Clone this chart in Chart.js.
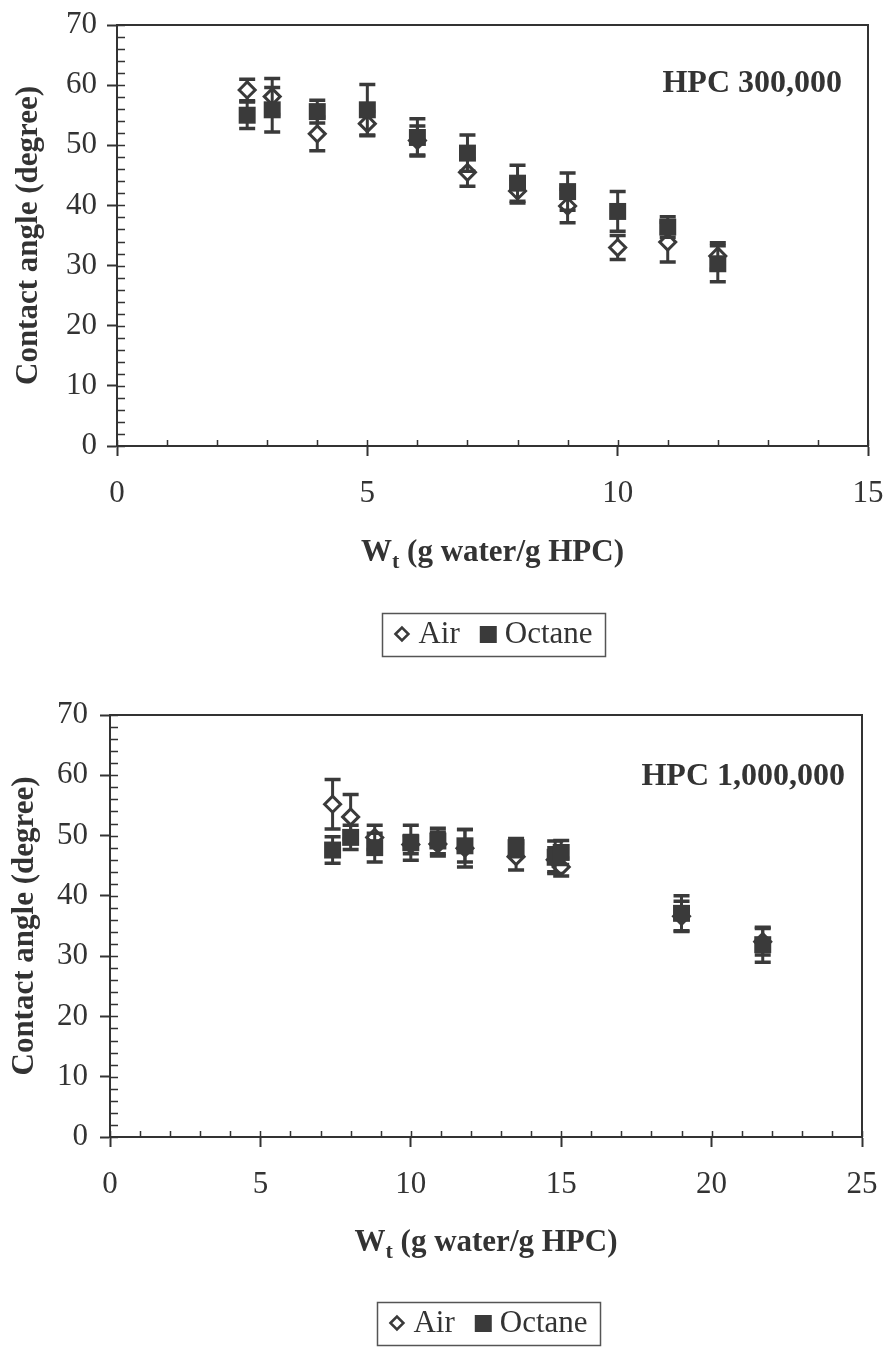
<!DOCTYPE html>
<html>
<head>
<meta charset="utf-8">
<script src="https://cdn.jsdelivr.net/npm/chart.js@4.4.1/dist/chart.umd.min.js"></script>
<style>
  html, body { margin: 0; padding: 0; background: #fff; }
  .panel { position: absolute; left: 0; width: 888px; }
</style>
</head>
<body>
<div class="panel" style="top:0;height:690px"><canvas id="chartTop" width="888" height="690"></canvas></div>
<div class="panel" style="top:690px;height:657px"><canvas id="chartBottom" width="888" height="657"></canvas></div>
<script>
// HPC 300,000
const topX = [2.6, 3.1, 4.0, 5.0, 6.0, 7.0, 8.0, 9.0, 10.0, 11.0, 12.0];
const topAir = [59.2, 58.1, 51.9, 53.6, 50.8, 45.5, 42.4, 39.9, 33.0, 33.9, 31.6];
const topAirErr = [1.8, 3.0, 2.8, 2.0, 2.4, 2.3, 2.0, 2.8, 2.0, 3.3, 2.2];
const topOctane = [55.0, 55.9, 55.6, 55.9, 51.3, 48.7, 43.7, 42.3, 39.0, 36.4, 30.3];
const topOctaneErr = [2.2, 3.7, 1.9, 4.2, 3.1, 3.0, 3.0, 3.1, 3.3, 1.7, 3.0];

// HPC 1,000,000
const bottomX = [7.4, 8.0, 8.8, 10.0, 10.9, 11.8, 13.5, 14.8, 15.0, 19.0, 21.7];
const bottomAir = [55.2, 53.1, 49.7, 48.5, 48.6, 47.9, 46.5, 46.0, 44.8, 36.6, 32.4];
const bottomAirErr = [4.1, 3.7, 2.0, 1.5, 2.0, 3.1, 2.2, 2.0, 1.5, 2.5, 2.2];
const bottomOctane = [47.6, 49.7, 48.0, 48.8, 49.1, 48.3, 48.0, 46.4, 47.2, 37.1, 31.9];
const bottomOctaneErr = [2.2, 2.0, 2.4, 2.9, 2.1, 2.7, 1.5, 2.7, 2.0, 2.9, 2.9];

const seriesNames = ['Air', 'Octane'];
const yTitle = 'Contact angle (degree)';
const yMax = 70, yMajor = 10, yMinor = 2;
const xMinor = 1;

const SERIF = "'Liberation Serif', 'Times New Roman', serif";
const INK = '#333333';
const MARK = '#3a3a3a';

function points(xs, ys) {
    return xs.map((x, i) => ({ x: x, y: ys[i] }));
}

// error bars drawn just before each dataset's markers
const errorBars = {
    id: 'errorBars',
    beforeDatasetDraw(chart, args) {
        const ds = chart.data.datasets[args.index];
        if (!ds.errors) return;
        const yScale = chart.scales.y;
        const ctx = chart.ctx;
        ctx.save();
        ctx.strokeStyle = MARK;
        args.meta.data.forEach((pt, i) => {
            const v = ds.data[i].y;
            const e = ds.errors[i];
            const top = yScale.getPixelForValue(v + e);
            const bot = yScale.getPixelForValue(v - e);
            ctx.lineWidth = 3;
            ctx.beginPath();
            ctx.moveTo(pt.x, top); ctx.lineTo(pt.x, bot);
            ctx.stroke();
            ctx.lineWidth = 3.5;
            ctx.beginPath();
            ctx.moveTo(pt.x - 8, top); ctx.lineTo(pt.x + 8, top);
            ctx.moveTo(pt.x - 8, bot); ctx.lineTo(pt.x + 8, bot);
            ctx.stroke();
        });
        ctx.restore();
    }
};

// frame, minor ticks, titles, label and boxed legend
const decor = {
    id: 'decor',
    afterDraw(chart, args, opts) {
        const { ctx, chartArea: a } = chart;
        const x = chart.scales.x, y = chart.scales.y;
        ctx.save();
        ctx.strokeStyle = INK;
        ctx.lineWidth = 2;
        ctx.strokeRect(a.left, a.top, a.right - a.left, a.bottom - a.top);

        ctx.lineWidth = 1.5;
        ctx.beginPath();
        for (let v = y.min; v <= y.max; v += yMinor) {
            const py = Math.round(y.getPixelForValue(v)) + 0.5;
            ctx.moveTo(a.left, py); ctx.lineTo(a.left + 8, py);
        }
        for (let v = x.min; v <= x.max; v += xMinor) {
            const px = Math.round(x.getPixelForValue(v)) + 0.5;
            ctx.moveTo(px, a.bottom); ctx.lineTo(px, a.bottom - 6);
        }
        ctx.stroke();

        ctx.fillStyle = INK;
        // y title
        ctx.save();
        ctx.translate(opts.yTitleX, (a.top + a.bottom) / 2);
        ctx.rotate(-Math.PI / 2);
        ctx.font = `bold 31px ${SERIF}`;
        ctx.textAlign = 'center';
        ctx.textBaseline = 'middle';
        ctx.fillText(yTitle, 0, 0);
        ctx.restore();

        // x title with subscript t
        const big = `bold 31px ${SERIF}`, small = `bold 22px ${SERIF}`;
        const p1 = 'W', p2 = 't', p3 = ' (g water/g HPC)';
        ctx.font = big; const w1 = ctx.measureText(p1).width, w3 = ctx.measureText(p3).width;
        ctx.font = small; const w2 = ctx.measureText(p2).width;
        let tx = (a.left + a.right) / 2 - (w1 + w2 + w3) / 2;
        ctx.textAlign = 'left';
        ctx.textBaseline = 'alphabetic';
        ctx.font = big; ctx.fillText(p1, tx, opts.xTitleBase); tx += w1;
        ctx.font = small; ctx.fillText(p2, tx, opts.xTitleBase + 7); tx += w2;
        ctx.font = big; ctx.fillText(p3, tx, opts.xTitleBase);

        // sample label
        ctx.font = `bold 32px ${SERIF}`;
        ctx.textAlign = 'right';
        ctx.fillText(opts.label, a.right - opts.labelRight, a.top + opts.labelBase);

        // legend
        ctx.font = `31px ${SERIF}`;
        const wAir = ctx.measureText(seriesNames[0]).width;
        const wOct = ctx.measureText(seriesNames[1]).width;
        const total = 11 + 17 + 8 + wAir + 20 + 17 + 8 + wOct + 13;
        const left = opts.legendX - total / 2;
        const cy = opts.legendY;
        ctx.lineWidth = 1.5;
        ctx.strokeStyle = '#555';
        ctx.strokeRect(Math.round(left) + 0.5, Math.round(cy - 21.5) + 0.5, Math.round(total), 43);
        let lx = left + 11;
        ctx.strokeStyle = MARK;
        ctx.lineWidth = 2.5;
        ctx.beginPath();
        ctx.moveTo(lx + 2, cy); ctx.lineTo(lx + 8.5, cy - 6.5);
        ctx.lineTo(lx + 15, cy); ctx.lineTo(lx + 8.5, cy + 6.5);
        ctx.closePath();
        ctx.stroke();
        lx += 25;
        ctx.textAlign = 'left';
        ctx.textBaseline = 'middle';
        ctx.fillStyle = INK;
        ctx.fillText(seriesNames[0], lx, cy + 1);
        lx += wAir + 20;
        ctx.fillStyle = MARK;
        ctx.fillRect(lx, cy - 8, 17, 17);
        lx += 25;
        ctx.fillStyle = INK;
        ctx.fillText(seriesNames[1], lx, cy + 1);
        ctx.restore();
    }
};

function makeChart(id, xs, air, airErr, oct, octErr, geo) {
    const ctx = document.getElementById(id).getContext('2d');
    return new Chart(ctx, {
        type: 'scatter',
        data: {
            datasets: [{
                label: seriesNames[0],
                data: points(xs, air),
                errors: airErr,
                pointStyle: 'rectRot',
                pointRadius: 8,
                pointBorderWidth: 3,
                borderColor: MARK,
                backgroundColor: '#ffffff',
                order: 2
            }, {
                label: seriesNames[1],
                data: points(xs, oct),
                errors: octErr,
                pointStyle: 'rect',
                pointRadius: 12,
                pointBorderWidth: 0,
                borderColor: MARK,
                backgroundColor: MARK,
                order: 1
            }]
        },
        options: {
            responsive: false,
            animation: false,
            devicePixelRatio: 1,
            layout: { padding: { top: geo.top, right: geo.right, left: 0, bottom: 0 } },
            plugins: {
                legend: { display: false },
                tooltip: { enabled: false },
                decor: geo.decor
            },
            scales: {
                x: {
                    type: 'linear',
                    min: 0,
                    max: geo.xMax,
                    afterFit: (s) => {
                        s.height = geo.xHeight;
                        s.paddingLeft = 0;
                        s.paddingRight = 0;
                    },
                    ticks: {
                        stepSize: geo.xStep,
                        padding: 19,
                        color: INK,
                        font: { family: SERIF, size: 31 }
                    },
                    grid: { drawOnChartArea: false, drawTicks: true, tickLength: 10, tickColor: INK, tickWidth: 2 },
                    border: { display: true, color: INK, width: 2 }
                },
                y: {
                    min: 0,
                    max: yMax,
                    afterFit: (s) => {
                        s.width = geo.yWidth;
                        s.paddingTop = 0;
                        s.paddingBottom = 0;
                    },
                    ticks: {
                        stepSize: yMajor,
                        padding: geo.yPad,
                        color: INK,
                        font: { family: SERIF, size: 31 }
                    },
                    grid: { drawOnChartArea: false, drawTicks: true, tickLength: 10, tickColor: INK, tickWidth: 2 },
                    border: { display: true, color: INK, width: 2 }
                }
            }
        },
        plugins: [errorBars, decor]
    });
}

makeChart('chartTop', topX, topAir, topAirErr, topOctane, topOctaneErr, {
    top: 25, right: 20, xHeight: 244, yWidth: 117, yPad: 10, xMax: 15, xStep: 5,
    decor: { label: 'HPC 300,000', labelRight: 26, labelBase: 67, yTitleX: 29, xTitleBase: 561, legendX: 494, legendY: 634 }
});

makeChart('chartBottom', bottomX, bottomAir, bottomAirErr, bottomOctane, bottomOctaneErr, {
    top: 25, right: 26, xHeight: 210, yWidth: 110, yPad: 12, xMax: 25, xStep: 5,
    decor: { label: 'HPC 1,000,000', labelRight: 17, labelBase: 70, yTitleX: 25, xTitleBase: 561, legendX: 489, legendY: 633 }
});
</script>
</body>
</html>
